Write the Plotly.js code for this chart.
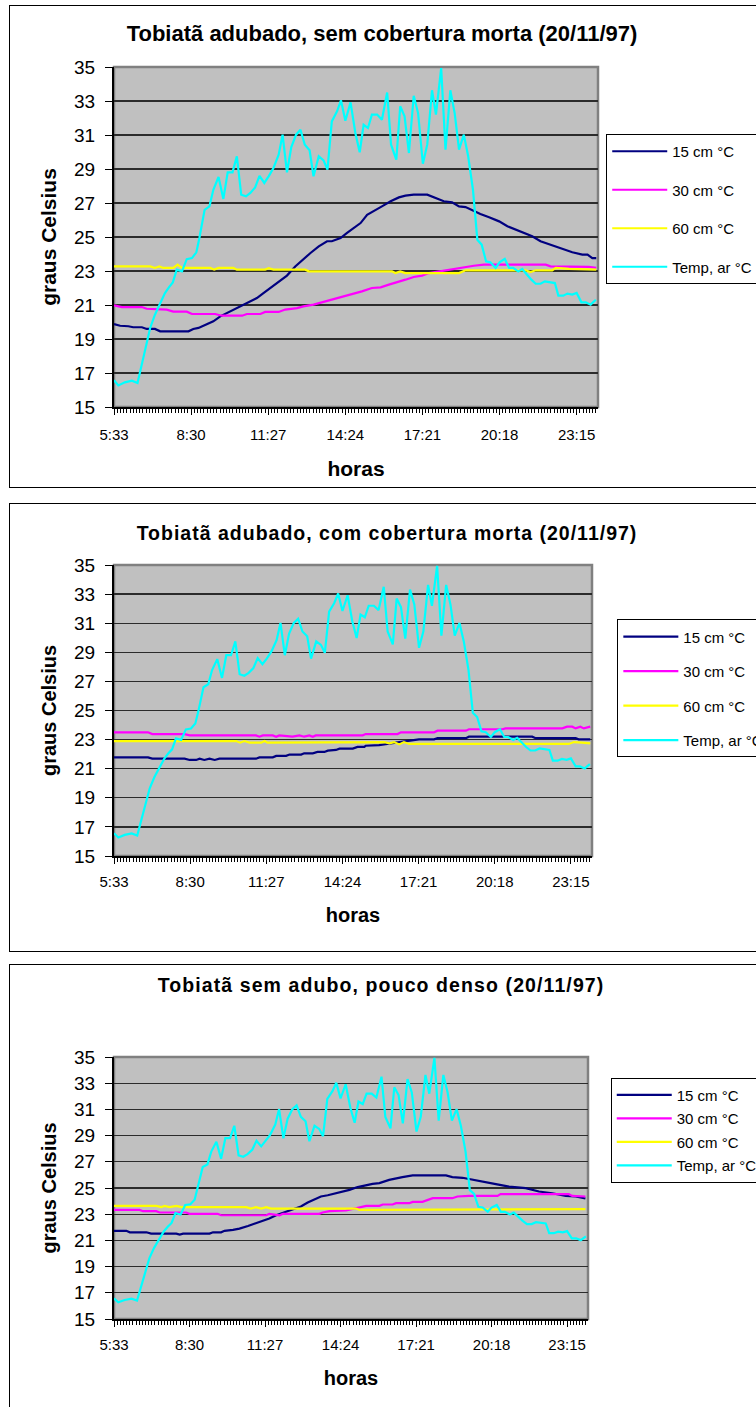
<!DOCTYPE html>
<html><head><meta charset="utf-8">
<script src="https://cdn.plot.ly/plotly-3.0.1.min.js"></script>
<style>
html,body{margin:0;padding:0;background:#fff;width:756px;height:1407px;overflow:hidden;position:relative;}
.box{position:absolute;border:1px solid #000;box-sizing:border-box;}
.plot{position:absolute;left:0;width:790px;}
#g2 .gtitle{letter-spacing:1px;}
#g3 .gtitle{letter-spacing:1.1px;}
</style></head><body>
<div class="box" style="left:9px;top:5px;width:800px;height:483px"></div>
<div class="box" style="left:9px;top:503px;width:800px;height:449px"></div>
<div class="box" style="left:9px;top:964px;width:800px;height:500px"></div>
<div id="g1" class="plot" style="top:0;height:490px"></div>
<div id="g2" class="plot" style="top:495px;height:460px"></div>
<div id="g3" class="plot" style="top:960px;height:447px"></div>
<script>
// ---- data (time in minutes after midnight, values in °C) ----
const tickLabels = ['5:33','8:30','11:27','14:24','17:21','20:18','23:15'];
const seriesNames = ['15 cm °C','30 cm °C','60 cm °C','Temp, ar °C'];
const chartTitles = [
  'Tobiatã adubado, sem cobertura morta (20/11/97)',
  'Tobiatã adubado, com cobertura morta (20/11/97)',
  'Tobiatã sem adubo, pouco denso (20/11/97)'
];

// air temperature (same in the three charts)
const airTime = [333,343,358,374,387,397,407,416,427,439,
  450,459,468,477,489,500,512,522,529,541,
  552,561,573,584,594,605,615,625,636,646,
  657,667,678,688,699,711,720,730,740,751,
  761,771,782,791,803,814,823,833,845,854,
  864,876,887,897,906,916,925,937,948,960,
  969,981,990,1000,1010,1021,1031,1042,1052,1063,
  1072,1084,1094,1105,1115,1125,1136,1146,1157,1167,
  1177,1187,1197,1209,1218,1230,1240,1249,1261,1270,
  1282,1291,1301,1312,1322,1334,1345,1353,1364,1374,
  1385,1395,1406,1416,1427,1439];
const airTemp = [16.57,16.27,16.45,16.55,16.41,17.49,18.76,19.65,20.43,21.12,
  21.70,22.04,22.33,23.08,22.98,23.70,23.76,24.10,24.94,26.60,
  26.80,27.78,28.53,27.24,28.80,28.80,29.75,27.49,27.39,27.59,
  27.92,28.60,28.18,28.57,29.06,29.84,31.02,28.80,30.29,31.02,
  31.31,30.43,30.10,28.57,29.75,29.51,28.96,31.80,32.39,33.04,
  31.84,32.92,31.12,29.98,31.60,31.41,32.20,32.20,31.90,33.50,
  30.43,29.55,32.69,32.10,29.94,33.31,32.29,29.31,30.43,33.63,
  32.20,34.94,30.14,33.63,32.29,30.14,31.02,29.75,27.78,24.84,
  24.55,23.57,23.51,23.18,23.51,23.71,23.18,23.18,22.98,23.12,
  22.73,22.49,22.25,22.25,22.39,22.33,22.29,21.55,21.55,21.67,
  21.61,21.71,21.16,21.16,21.02,21.31];

// chart 1: adubado, sem cobertura morta
const semT15 = [333,347,366,377,397,408,427,439,504,515,527,546,561,577,596,615,634,646,661,676,692,707,730,749,768,784,803,822,833,853,868,887,899,914,929,948,968,987,1002,1021,1052,1071,1090,1109,1125,1140,1155,1174,1194,1217,1236,1255,1274,1293,1312,1331,1347,1366,1385,1408,1420,1431,1440];
const semV15 = [19.88,19.78,19.75,19.69,19.69,19.59,19.59,19.45,19.45,19.59,19.65,19.88,20.04,20.33,20.57,20.82,21.02,21.22,21.41,21.70,22.00,22.29,22.73,23.27,23.71,24.06,24.45,24.75,24.75,24.94,25.24,25.63,25.82,26.31,26.51,26.80,27.10,27.33,27.43,27.49,27.49,27.29,27.10,27.04,26.80,26.76,26.57,26.35,26.16,25.92,25.63,25.43,25.20,25.04,24.75,24.59,24.45,24.29,24.10,23.96,23.96,23.76,23.76];
const semT30 = [333,351,397,408,454,469,500,512,565,581,627,638,669,680,711,726,753,768,791,814,837,860,887,902,925,945,964,983,1002,1021,1040,1056,1079,1102,1121,1140,1159,1182,1324,1335,1377,1423,1440];
const semV30 = [20.98,20.88,20.88,20.78,20.73,20.61,20.61,20.47,20.47,20.37,20.37,20.47,20.47,20.59,20.59,20.73,20.82,20.92,21.02,21.18,21.35,21.51,21.67,21.80,22.00,22.04,22.20,22.33,22.49,22.65,22.73,22.88,22.98,23.08,23.18,23.22,23.31,23.37,23.37,23.27,23.24,23.24,23.18];
const semT60 = [333,416,427,437,446,469,479,489,554,563,573,607,615,680,688,699,772,780,971,979,990,1002,1125,1140,1278,1289,1301,1339,1347,1377,1440];
const semV60 = [23.27,23.27,23.18,23.27,23.18,23.18,23.37,23.18,23.18,23.08,23.18,23.18,23.08,23.08,23.16,23.08,23.08,22.98,22.98,22.88,22.98,22.88,22.88,23.04,23.04,22.94,23.04,23.04,23.18,23.12,23.08];

// chart 2: adubado, com cobertura morta
const comT15 = [333,412,422,497,509,524,532,543,555,567,578,663,671,702,710,733,741,768,775,795,806,822,830,849,857,888,899,915,918,949,996,1011,1042,1077,1085,1151,1158,1305,1313,1406,1413,1440];
const comV15 = [21.78,21.78,21.69,21.69,21.60,21.60,21.69,21.60,21.69,21.60,21.69,21.69,21.78,21.78,21.88,21.88,21.97,21.97,22.06,22.06,22.15,22.15,22.24,22.29,22.38,22.38,22.50,22.50,22.58,22.62,22.83,22.90,23.02,23.02,23.10,23.10,23.20,23.20,23.10,23.10,23.02,23.02];
const comT30 = [333,412,422,497,509,663,671,679,702,710,717,748,764,775,787,795,802,911,918,992,1000,1077,1085,1151,1158,1236,1243,1375,1386,1398,1406,1417,1425,1440];
const comV30 = [23.50,23.50,23.38,23.38,23.29,23.29,23.20,23.29,23.29,23.20,23.29,23.20,23.29,23.20,23.29,23.20,23.29,23.29,23.38,23.38,23.50,23.50,23.61,23.61,23.71,23.71,23.77,23.77,23.89,23.89,23.77,23.89,23.77,23.89];
const comT60 = [333,617,626,636,648,675,683,690,961,973,984,996,1007,1019,1390,1402,1421,1440];
const comV60 = [22.90,22.90,22.79,22.90,22.79,22.79,22.90,22.79,22.83,22.74,22.83,22.67,22.83,22.70,22.70,22.83,22.79,22.74];

// chart 3: sem adubo, pouco denso
const pocT15 = [333,362,370,409,420,479,487,495,557,565,584,592,612,627,647,662,682,697,713,732,752,771,787,803,818,834,853,869,885,904,924,939,955,978,1009,1033,1111,1126,1150,1173,1197,1228,1259,1298,1329,1360,1392,1415,1438];
const pocV15 = [21.73,21.73,21.62,21.62,21.52,21.52,21.45,21.52,21.52,21.62,21.62,21.73,21.80,21.90,22.10,22.26,22.49,22.67,22.92,23.13,23.38,23.59,23.89,24.10,24.35,24.45,24.60,24.71,24.86,25.07,25.24,25.32,25.37,25.62,25.83,25.96,25.96,25.83,25.78,25.62,25.50,25.29,25.11,24.99,24.73,24.60,24.40,24.35,24.20];
const pocT30 = [333,393,401,432,440,502,510,576,584,690,697,721,729,814,822,838,877,908,924,955,963,986,994,1025,1033,1056,1080,1126,1138,1165,1232,1239,1399,1407,1438];
const pocV30 = [23.33,23.33,23.23,23.23,23.13,23.13,23.03,23.03,22.92,22.92,23.03,22.92,23.03,23.03,23.13,23.23,23.28,23.54,23.64,23.64,23.74,23.74,23.84,23.84,23.94,23.94,24.22,24.22,24.35,24.40,24.40,24.53,24.53,24.40,24.35];
const pocT60 = [333,432,444,452,463,479,491,643,654,666,678,690,701,900,908,1438];
const pocV60 = [23.64,23.64,23.54,23.64,23.54,23.64,23.54,23.54,23.43,23.54,23.43,23.54,23.43,23.43,23.33,23.38];

// ---- drawing ----
const FONT = 'Arial, "Liberation Sans", sans-serif';
const colors = ['#000080','#ff00ff','#ffff00','#00ffff'];
const tickVals = tickLabels.map(s => { const p = s.split(':'); return (+p[0]) * 60 + (+p[1]); });

function build(id, c) {
  const xs = [c.t15, c.t30, c.t60, airTime];
  const ys = [c.v15, c.v30, c.v60, airTemp];
  const traces = xs.map((x, i) => ({
    type: 'scatter', mode: 'lines', x: x, y: ys[i], name: seriesNames[i],
    legendgroup: 'g' + i, line: {color: colors[i], width: 2.2}, hoverinfo: 'skip'
  }));
  const layout = {
    width: 790, height: c.h,
    margin: {l: c.l, r: 790 - c.right, t: c.t, b: c.b, autoexpand: false},
    paper_bgcolor: 'rgba(0,0,0,0)', plot_bgcolor: '#c0c0c0',
    font: {family: FONT, color: '#000'},
    title: {text: c.title, font: {size: c.titleSize, weight: 'bold', family: FONT, color: '#000'},
      xref: 'container', yref: 'container', x: c.titleX / 790, xanchor: 'center',
      y: 1 - c.titleY / c.h, yanchor: 'middle'},
    xaxis: {
      range: [333, 1444], tickmode: 'array', tickvals: tickVals, ticktext: tickLabels,
      ticks: 'outside', ticklen: 6, tickwidth: 1, tickcolor: '#000',
      showline: true, linecolor: '#000', linewidth: 2, showgrid: false, zeroline: false,
      tickfont: {size: 15, family: FONT}, ticklabelstandoff: c.xStand,
      minor: {tick0: 333, dtick: 177 / 24, ticks: 'outside', ticklen: 4, tickwidth: 1, tickcolor: '#000', showgrid: false},
      title: {text: 'horas', font: {size: c.axSize, weight: 'bold', family: FONT}, standoff: c.xTitleStand}
    },
    yaxis: {
      range: [15, 35], tick0: 15, dtick: 2, ticks: 'outside', ticklen: 7, tickwidth: 1, tickcolor: '#000',
      showline: true, linecolor: '#000', linewidth: 2, zeroline: false,
      showgrid: true, gridcolor: '#2b2b2b', gridwidth: 1.3,
      tickfont: {size: 19, family: FONT}, ticklabelstandoff: 6,
      title: {text: 'graus Celsius', font: {size: c.axSize, weight: 'bold', family: FONT}, standoff: 12}
    },
    shapes: [{type: 'rect', xref: 'paper', yref: 'paper', x0: 0, x1: 1, y0: 0, y1: 1,
      line: {color: '#808080', width: 2.5}, fillcolor: 'rgba(0,0,0,0)', layer: 'below'}],
    showlegend: true,
    legend: {x: c.legX, xanchor: 'left', y: c.legY, yanchor: 'top', bgcolor: '#fff',
      bordercolor: '#000', borderwidth: 1, font: {size: 15, family: FONT},
      tracegroupgap: c.legGap, itemwidth: 55, traceorder: 'grouped'}
  };
  Plotly.newPlot(id, traces, layout, {staticPlot: true, displayModeBar: false});
}

build('g1', {t15: semT15, v15: semV15, t30: semT30, v30: semV30, t60: semT60, v60: semV60,
  h: 490, l: 114, right: 597.7, t: 67, b: 82.7, title: chartTitles[0], titleSize: 22, titleX: 382, titleY: 33,
  axSize: 21, xStand: 7, xTitleStand: 19, legX: 1.017, legY: 0.803, legGap: 16});
build('g2', {t15: comT15, v15: comV15, t30: comT30, v30: comV30, t60: comT60, v60: comV60,
  h: 460, l: 114.3, right: 592.3, t: 70, b: 99, title: chartTitles[1], titleSize: 19.5, titleX: 387, titleY: 38.3,
  axSize: 20, xStand: 5, xTitleStand: 19, legX: 1.053, legY: 0.813, legGap: 12});
build('g3', {t15: pocT15, v15: pocV15, t30: pocT30, v30: pocV30, t60: pocT60, v60: pocV60,
  h: 447, l: 114.3, right: 588.3, t: 97.3, b: 88, title: chartTitles[2], titleSize: 19.5, titleX: 381, titleY: 25,
  axSize: 20, xStand: 5, xTitleStand: 19, legX: 1.048, legY: 0.921, legGap: 1});
</script>
</body></html>
